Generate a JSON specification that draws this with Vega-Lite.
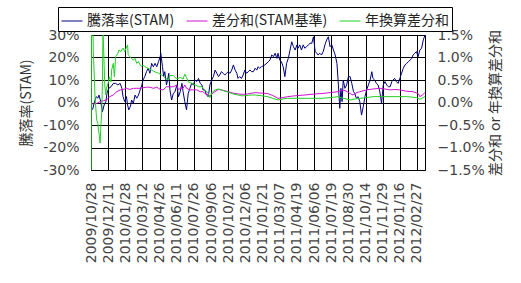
{
"$schema":"https://vega.github.io/schema/vega-lite/v6.json",
"width":334,"height":135,
"autosize":{"type":"none"},
"padding":{"left":91,"top":35,"right":96,"bottom":113},
"background":"white",
"config":{
 "view":{"stroke":"#000","strokeWidth":1},
 "axis":{"labelFont":"DejaVu Sans","labelFontSize":14,"labelColor":"#444","titleFont":"Noto Sans CJK JP","titleFontSize":14,"titleFontWeight":"normal","titleColor":"#333","ticks":false,"domain":false,"gridColor":"#000","gridOpacity":1,"gridWidth":1}
},
"datasets":{
 "stam":[{"day":0,"value":0},{"day":1,"value":-2.8},{"day":3,"value":-3.0},{"day":5,"value":-0.7},{"day":9,"value":2.6},{"day":12,"value":1.9},{"day":14,"value":3.3},{"day":17,"value":0.4},{"day":20,"value":-4.1},{"day":23,"value":-1.1},{"day":26,"value":0.4},{"day":28,"value":4.1},{"day":31,"value":6.3},{"day":35,"value":7.0},{"day":39,"value":8.5},{"day":43,"value":8.5},{"day":47,"value":7.8},{"day":51,"value":8.5},{"day":54,"value":6.3},{"day":56,"value":2.6},{"day":59,"value":0.4},{"day":62,"value":2.6},{"day":64,"value":-1.1},{"day":66,"value":-3.3},{"day":69,"value":-1.6},{"day":71,"value":1.1},{"day":74,"value":-0.4},{"day":77,"value":3.3},{"day":80,"value":1.9},{"day":83,"value":3.3},{"day":86,"value":5.6},{"day":89,"value":7.8},{"day":91,"value":10},{"day":94,"value":11.5},{"day":97,"value":13.7},{"day":100,"value":15.2},{"day":103,"value":13},{"day":106,"value":17.4},{"day":109,"value":15.9},{"day":112,"value":17.4},{"day":115,"value":15.9},{"day":118,"value":18.1},{"day":121,"value":20.4},{"day":122,"value":21.9},{"day":125,"value":15.9},{"day":127,"value":11.5},{"day":129,"value":13.7},{"day":132,"value":7.8},{"day":134,"value":10},{"day":136,"value":13},{"day":138,"value":5.6},{"day":141,"value":1.1},{"day":144,"value":4.1},{"day":147,"value":4.8},{"day":150,"value":7.8},{"day":153,"value":2.6},{"day":156,"value":4.8},{"day":159,"value":8.5},{"day":161,"value":4.8},{"day":164,"value":0.4},{"day":167,"value":-3.3},{"day":170,"value":4.1},{"day":173,"value":6.3},{"day":176,"value":8.5},{"day":179,"value":7.8},{"day":182,"value":10},{"day":185,"value":9.3},{"day":188,"value":10.7},{"day":191,"value":8.5},{"day":194,"value":7.8},{"day":196,"value":5.6},{"day":199,"value":5.6},{"day":202,"value":3.3},{"day":205,"value":2.6},{"day":208,"value":7.8},{"day":211,"value":10},{"day":214,"value":11.5},{"day":217,"value":14.4},{"day":220,"value":13},{"day":223,"value":11.5},{"day":225,"value":12.2},{"day":228,"value":13.7},{"day":231,"value":13},{"day":234,"value":12.2},{"day":237,"value":13},{"day":240,"value":13.7},{"day":243,"value":13},{"day":246,"value":14.4},{"day":249,"value":16.7},{"day":252,"value":14.4},{"day":255,"value":13},{"day":257,"value":10.7},{"day":260,"value":11.5},{"day":263,"value":10.7},{"day":266,"value":12.2},{"day":269,"value":14.4},{"day":272,"value":13},{"day":275,"value":13.7},{"day":278,"value":14.4},{"day":281,"value":13.7},{"day":284,"value":13.7},{"day":287,"value":15.2},{"day":290,"value":14.4},{"day":292,"value":15.9},{"day":295,"value":15.2},{"day":298,"value":15.9},{"day":304,"value":16.7},{"day":310,"value":18.1},{"day":313,"value":18.9},{"day":316,"value":21.1},{"day":319,"value":20.4},{"day":322,"value":21.9},{"day":325,"value":19.6},{"day":327,"value":21.9},{"day":330,"value":18.9},{"day":333,"value":18.1},{"day":336,"value":15.9},{"day":339,"value":11.5},{"day":342,"value":17.4},{"day":345,"value":19.6},{"day":348,"value":23.3},{"day":351,"value":27},{"day":354,"value":24.8},{"day":357,"value":23.3},{"day":360,"value":25.6},{"day":362,"value":24.1},{"day":365,"value":25.6},{"day":368,"value":23.3},{"day":371,"value":25.6},{"day":374,"value":24.1},{"day":377,"value":24.8},{"day":380,"value":25.6},{"day":383,"value":26.3},{"day":386,"value":26.3},{"day":389,"value":29.2},{"day":392,"value":22.6},{"day":395,"value":21.9},{"day":397,"value":21.1},{"day":400,"value":21.9},{"day":403,"value":21.1},{"day":406,"value":22.6},{"day":409,"value":25.6},{"day":412,"value":27.8},{"day":415,"value":29.2},{"day":418,"value":24.8},{"day":421,"value":25.6},{"day":424,"value":23.3},{"day":427,"value":21.1},{"day":430,"value":17.4},{"day":432,"value":10},{"day":435,"value":-2.6},{"day":437,"value":6.3},{"day":439,"value":0.4},{"day":441,"value":10},{"day":444,"value":6.3},{"day":447,"value":7.8},{"day":450,"value":11.5},{"day":453,"value":11.5},{"day":456,"value":8.5},{"day":459,"value":4.8},{"day":461,"value":4.1},{"day":464,"value":1.9},{"day":467,"value":2.6},{"day":470,"value":0.4},{"day":473,"value":-5.6},{"day":476,"value":-1.9},{"day":479,"value":2.6},{"day":482,"value":5.6},{"day":485,"value":7.8},{"day":488,"value":10},{"day":491,"value":13.7},{"day":493,"value":10.7},{"day":496,"value":10},{"day":499,"value":8.5},{"day":502,"value":7.8},{"day":505,"value":4.8},{"day":508,"value":-0.4},{"day":511,"value":7.8},{"day":514,"value":9.3},{"day":517,"value":7.8},{"day":520,"value":7},{"day":523,"value":7},{"day":526,"value":9.3},{"day":528,"value":10},{"day":531,"value":10.7},{"day":534,"value":9.3},{"day":537,"value":8.5},{"day":540,"value":10.7},{"day":543,"value":13},{"day":546,"value":15.2},{"day":549,"value":16.7},{"day":552,"value":17.4},{"day":555,"value":18.1},{"day":558,"value":18.9},{"day":561,"value":19.6},{"day":563,"value":21.1},{"day":566,"value":21.9},{"day":569,"value":22.6},{"day":572,"value":20.4},{"day":575,"value":23.3},{"day":578,"value":24.1},{"day":581,"value":27.8},{"day":584,"value":30}],
 "diff":[{"day":0,"value":-0.03},{"day":4,"value":-0.03},{"day":10,"value":-0.02},{"day":16,"value":0.02},{"day":22,"value":0.04},{"day":27,"value":0.056},{"day":33,"value":0.13},{"day":39,"value":0.17},{"day":45,"value":0.24},{"day":51,"value":0.28},{"day":56,"value":0.29},{"day":62,"value":0.315},{"day":68,"value":0.29},{"day":74,"value":0.315},{"day":80,"value":0.315},{"day":86,"value":0.315},{"day":91,"value":0.33},{"day":97,"value":0.34},{"day":103,"value":0.34},{"day":109,"value":0.315},{"day":115,"value":0.34},{"day":121,"value":0.29},{"day":126,"value":0.28},{"day":132,"value":0.35},{"day":138,"value":0.35},{"day":144,"value":0.35},{"day":150,"value":0.39},{"day":153,"value":0.28},{"day":156,"value":0.315},{"day":161,"value":0.315},{"day":164,"value":0.39},{"day":167,"value":0.315},{"day":173,"value":0.28},{"day":179,"value":0.28},{"day":185,"value":0.28},{"day":191,"value":0.24},{"day":196,"value":0.24},{"day":199,"value":0.2},{"day":205,"value":0.17},{"day":208,"value":0.145},{"day":214,"value":0.22},{"day":223,"value":0.29},{"day":231,"value":0.27},{"day":240,"value":0.24},{"day":248,"value":0.21},{"day":257,"value":0.19},{"day":266,"value":0.18},{"day":274,"value":0.19},{"day":278,"value":0.2},{"day":287,"value":0.22},{"day":297,"value":0.21},{"day":309,"value":0.2},{"day":318,"value":0.155},{"day":327,"value":0.093},{"day":336,"value":0.11},{"day":344,"value":0.13},{"day":357,"value":0.15},{"day":374,"value":0.167},{"day":392,"value":0.19},{"day":404,"value":0.2},{"day":418,"value":0.22},{"day":432,"value":0.24},{"day":439,"value":0.28},{"day":446,"value":0.255},{"day":453,"value":0.2},{"day":458,"value":0.167},{"day":465,"value":0.22},{"day":470,"value":0.24},{"day":482,"value":0.28},{"day":493,"value":0.3},{"day":505,"value":0.315},{"day":514,"value":0.3},{"day":523,"value":0.28},{"day":531,"value":0.29},{"day":540,"value":0.28},{"day":552,"value":0.25},{"day":563,"value":0.24},{"day":572,"value":0.2},{"day":575,"value":0.13},{"day":579,"value":0.16},{"day":584,"value":0.22}],
 "annual":[{"day":0,"value":-3},{"day":1,"value":3},{"day":3,"value":2},{"day":4,"value":1.13},{"day":6,"value":0.5},{"day":7,"value":0.13},{"day":9,"value":-0.23},{"day":10,"value":-0.39},{"day":12,"value":-0.46},{"day":13,"value":-0.61},{"day":14,"value":-0.68},{"day":16,"value":-0.9},{"day":17,"value":-0.57},{"day":19,"value":-0.17},{"day":20,"value":0.5},{"day":21,"value":1.6},{"day":23,"value":0.83},{"day":24,"value":0.39},{"day":26,"value":0.17},{"day":27,"value":0.32},{"day":30,"value":0.43},{"day":32,"value":0.57},{"day":35,"value":0.46},{"day":36,"value":0.72},{"day":39,"value":0.87},{"day":41,"value":0.57},{"day":43,"value":1.02},{"day":47,"value":1.09},{"day":49,"value":1.17},{"day":52,"value":1.13},{"day":56,"value":1.21},{"day":59,"value":1.13},{"day":61,"value":1.2},{"day":64,"value":1.28},{"day":65,"value":1.06},{"day":68,"value":1.02},{"day":71,"value":0.98},{"day":74,"value":0.94},{"day":77,"value":0.98},{"day":80,"value":0.87},{"day":83,"value":0.91},{"day":86,"value":0.83},{"day":89,"value":0.8},{"day":91,"value":0.83},{"day":94,"value":0.8},{"day":100,"value":0.76},{"day":106,"value":0.72},{"day":112,"value":0.68},{"day":118,"value":0.65},{"day":124,"value":0.61},{"day":130,"value":0.54},{"day":136,"value":0.5},{"day":138,"value":0.6},{"day":144,"value":0.6},{"day":150,"value":0.52},{"day":156,"value":0.56},{"day":161,"value":0.52},{"day":164,"value":0.63},{"day":167,"value":0.56},{"day":170,"value":0.46},{"day":176,"value":0.43},{"day":182,"value":0.39},{"day":188,"value":0.35},{"day":194,"value":0.35},{"day":196,"value":0.315},{"day":199,"value":0.28},{"day":205,"value":0.2},{"day":208,"value":0.11},{"day":211,"value":0.22},{"day":217,"value":0.28},{"day":223,"value":0.3},{"day":228,"value":0.28},{"day":234,"value":0.25},{"day":240,"value":0.23},{"day":246,"value":0.2},{"day":252,"value":0.18},{"day":257,"value":0.167},{"day":263,"value":0.15},{"day":269,"value":0.15},{"day":275,"value":0.16},{"day":281,"value":0.167},{"day":287,"value":0.167},{"day":298,"value":0.15},{"day":309,"value":0.13},{"day":318,"value":0.09},{"day":327,"value":0.056},{"day":336,"value":0.08},{"day":344,"value":0.093},{"day":360,"value":0.093},{"day":380,"value":0.093},{"day":404,"value":0.093},{"day":420,"value":0.11},{"day":432,"value":0.13},{"day":439,"value":0.1},{"day":446,"value":0.08},{"day":453,"value":0.056},{"day":462,"value":0.08},{"day":470,"value":0.093},{"day":482,"value":0.11},{"day":493,"value":0.13},{"day":511,"value":0.13},{"day":528,"value":0.13},{"day":552,"value":0.13},{"day":569,"value":0.11},{"day":575,"value":0.07},{"day":579,"value":0.1},{"day":584,"value":0.13}]
},
"encoding":{
 "x":{"field":"day","type":"quantitative","scale":{"domain":[0,584],"nice":false,"zero":false},
  "axis":{"values":[0,30,60,90,120,150,180,210,240,270,300,330,360,390,420,450,480,510,540,570],
   "labelExpr":"['2009/10/28','2009/12/11','2010/01/28','2010/03/12','2010/04/26','2010/06/11','2010/07/26','2010/09/06','2010/10/21','2010/12/06','2011/01/21','2011/03/07','2011/04/19','2011/06/06','2011/07/19','2011/08/30','2011/10/14','2011/11/29','2012/01/16','2012/02/27'][round(datum.value/30)]",
   "labelAngle":-90,"labelAlign":"right","labelBaseline":"middle","labelPadding":12,"labelFlush":false,"labelOverlap":false,"labelBound":false,"title":null,"grid":true}}
},
"layer":[
 {"data":{"name":"stam"},
  "mark":{"type":"line","strokeWidth":1,"clip":true},
  "encoding":{
   "y":{"field":"value","type":"quantitative","scale":{"domain":[-30,30],"nice":false,"zero":false},
    "axis":{"orient":"left","values":[-30,-20,-10,0,10,20,30],"labelExpr":"datum.value + '%'","title":"騰落率(STAM)","grid":true,"labelPadding":12,"titlePadding":9}},
   "color":{"datum":"騰落率(STAM)","type":"nominal",
    "scale":{"domain":["騰落率(STAM)","差分和(STAM基準)","年換算差分和"],"range":["#000080","#D010D0","#22D022"]},
    "legend":{"title":null,"orient":"none","legendX":-33,"legendY":-28,"direction":"horizontal","strokeColor":"#000","fillColor":"#fff","padding":3,"symbolType":"stroke","symbolSize":441,"symbolStrokeWidth":1,"labelFont":"Noto Sans CJK JP","labelFontSize":14,"labelColor":"#222","columnPadding":9,"labelOffset":4}}
  }},
 {"encoding":{
   "y":{"field":"value","type":"quantitative","scale":{"domain":[-1.5,1.5],"nice":false,"zero":false},
    "axis":{"orient":"right","values":[-1.5,-1,-0.5,0,0.5,1,1.5],"format":".1f","labelExpr":"datum.label + '%'","title":"差分和 or 年換算差分和","titleAngle":270,"titleBaseline":"top","grid":false,"labelPadding":12,"titlePadding":4}}},
  "layer":[
   {"data":{"name":"diff"},"mark":{"type":"line","strokeWidth":1,"clip":true},"encoding":{"color":{"datum":"差分和(STAM基準)","type":"nominal"}}},
   {"data":{"name":"annual"},"mark":{"type":"line","strokeWidth":1,"clip":true},"encoding":{"color":{"datum":"年換算差分和","type":"nominal"}}}
  ]}
],
"resolve":{"scale":{"y":"independent"}}
}
